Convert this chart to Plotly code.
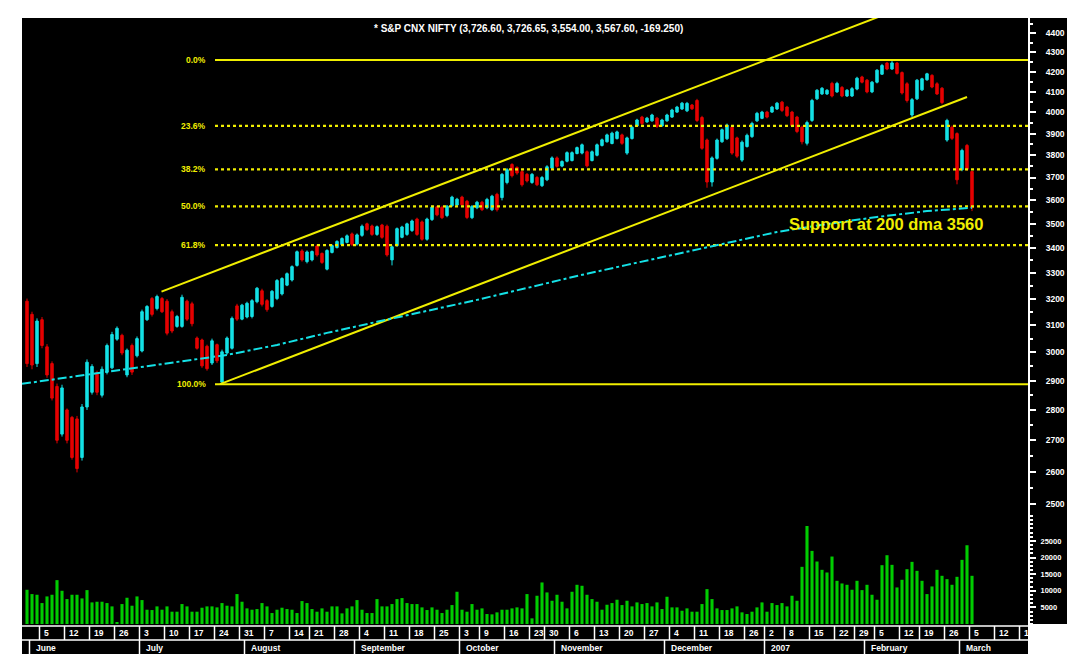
import math
import pandas as pd
import plotly.graph_objects as go

# ---------------- data ----------------
title_text = "* S&P CNX NIFTY (3,726.60, 3,726.65, 3,554.00, 3,567.60, -169.250)"
support_text = "Support at 200 dma 3560"

start_date = "2006-05-31"
axis_end_date = "2007-03-23"
holidays = ["2006-08-15", "2006-10-02", "2006-10-24", "2006-10-25", "2006-12-25",
            "2007-01-01", "2007-01-26", "2007-01-30", "2007-02-16"]

opens = [
    3190, 3140, 2960, 3120, 3020, 2960, 2880, 2720, 2800, 2775,
    2770, 2645, 2810, 2860, 2928, 2850, 2930, 2945, 3048, 3062,
    2920, 3025, 2988, 3005, 3120, 3200, 3162, 3200, 3190, 3150,
    3095, 3095, 3190, 3180, 3052, 3045, 3022, 2962, 3028, 2895,
    2998, 3015, 3172, 3122, 3130, 3132, 3188, 3230, 3192, 3170,
    3200, 3218, 3252, 3272, 3330, 3388, 3345, 3352, 3408, 3378,
    3315, 3382, 3402, 3414, 3423, 3458, 3416, 3452, 3500, 3491,
    3456, 3495, 3490, 3352, 3410, 3444, 3456, 3472, 3520, 3508,
    3436, 3518, 3572, 3570, 3535, 3577, 3580, 3614, 3596, 3526,
    3568, 3592, 3568, 3560, 3626, 3612, 3678, 3758, 3745, 3726,
    3714, 3678, 3700, 3664, 3690, 3742, 3788, 3751, 3773, 3776,
    3808, 3810, 3816, 3776, 3800, 3845, 3862, 3854, 3877, 3894,
    3810, 3877, 3936, 3978, 3955, 3960, 3973, 3936, 3960, 3978,
    4002, 4017, 4008, 4036, 4058, 3976, 3870, 3680, 3786, 3862,
    3876, 3930, 3880, 3778, 3840, 3886, 3960, 3972, 4002, 4002,
    4017, 4050, 4026, 4002, 3978, 3930, 3855, 3962, 4066, 4090,
    4090, 4142, 4100, 4122, 4080, 4080, 4114, 4174, 4158, 4100,
    4148, 4188, 4244, 4214, 4244, 4196, 4140, 3988, 4066, 4110,
    4160, 4182, 4140, 4118, 3870, 3930, 3900, 3735, 3845, 3726.6,
]
highs = [
    3200, 3150, 3125, 3130, 3030, 2968, 2890, 2886, 2805, 2780,
    2780, 2820, 2975, 2958, 2935, 2950, 3032, 3075, 3095, 3068,
    3014, 3032, 3058, 3158, 3175, 3206, 3215, 3206, 3198, 3158,
    3138, 3215, 3196, 3188, 3058, 3050, 3028, 3050, 3032, 3010,
    3058, 3132, 3180, 3180, 3188, 3198, 3245, 3238, 3198, 3233,
    3276, 3283, 3302, 3330, 3390, 3395, 3390, 3390, 3415, 3382,
    3395, 3415, 3432, 3444, 3456, 3464, 3460, 3497, 3505, 3497,
    3493, 3500, 3497, 3410, 3485, 3492, 3505, 3518, 3526, 3514,
    3526, 3577, 3577, 3577, 3580, 3620, 3611, 3620, 3602, 3580,
    3598, 3598, 3611, 3624, 3633, 3720, 3742, 3764, 3750, 3733,
    3720, 3720, 3707, 3707, 3755, 3795, 3795, 3777, 3818, 3818,
    3840, 3854, 3822, 3822, 3854, 3877, 3900, 3909, 3914, 3900,
    3886, 3937, 3970, 3984, 3979, 3994, 3979, 3970, 3994, 4018,
    4032, 4051, 4051, 4041, 4066, 3984, 3877, 3795, 3877, 3924,
    3947, 3937, 3886, 3868, 3900, 3956, 4003, 4008, 4008, 4032,
    4051, 4056, 4032, 4008, 3984, 3937, 3961, 4066, 4114, 4124,
    4114, 4150, 4150, 4129, 4114, 4124, 4175, 4180, 4164, 4154,
    4214, 4240, 4250, 4258, 4250, 4202, 4148, 4070, 4164, 4170,
    4195, 4188, 4148, 4124, 3970, 3938, 3906, 3830, 3852, 3726.65,
]
lows = [
    2948, 2940, 2948, 3015, 2910, 2832, 2690, 2712, 2690, 2638,
    2598, 2635, 2800, 2852, 2850, 2842, 2922, 2940, 3042, 2990,
    2912, 2920, 2982, 3000, 3115, 3132, 3155, 3145, 3062, 3070,
    3090, 3090, 3115, 3095, 3010, 2945, 2935, 2955, 2962, 2888,
    2992, 3010, 3115, 3118, 3125, 3125, 3182, 3170, 3150, 3165,
    3194, 3212, 3248, 3266, 3325, 3345, 3338, 3346, 3365, 3336,
    3310, 3378, 3398, 3410, 3419, 3408, 3410, 3446, 3470, 3450,
    3450, 3438, 3365, 3330, 3405, 3440, 3450, 3466, 3450, 3430,
    3430, 3512, 3532, 3520, 3528, 3572, 3576, 3575, 3520, 3520,
    3562, 3554, 3562, 3554, 3552, 3600, 3670, 3700, 3712, 3660,
    3678, 3672, 3662, 3658, 3684, 3736, 3744, 3746, 3768, 3772,
    3804, 3804, 3745, 3772, 3795, 3840, 3858, 3850, 3872, 3848,
    3802, 3872, 3932, 3940, 3951, 3956, 3926, 3932, 3956, 3974,
    3998, 4012, 4002, 4012, 3954, 3825, 3655, 3660, 3780, 3857,
    3870, 3802, 3788, 3770, 3835, 3880, 3955, 3968, 3972, 3998,
    4012, 4002, 3978, 3930, 3902, 3850, 3845, 3955, 4060, 4085,
    4085, 4073, 4095, 4074, 4075, 4075, 4108, 4142, 4093, 4094,
    4142, 4184, 4208, 4210, 4186, 4087, 4048, 3978, 4060, 4104,
    4155, 4118, 4085, 4040, 3862, 3870, 3670, 3728, 3730, 3554,
]
closes = [
    2960, 2955, 3115, 3025, 2920, 2840, 2700, 2875, 2700, 2645,
    2610, 2810, 2965, 2950, 2860, 2940, 3025, 3065, 3088, 2998,
    3008, 2930, 3050, 3150, 3170, 3140, 3208, 3150, 3070, 3078,
    3132, 3205, 3122, 3105, 3015, 2952, 2942, 3042, 2970, 3002,
    3052, 3125, 3122, 3175, 3182, 3192, 3240, 3178, 3158, 3228,
    3270, 3278, 3297, 3325, 3385, 3352, 3384, 3386, 3372, 3342,
    3390, 3410, 3427, 3439, 3450, 3415, 3454, 3490, 3476, 3456,
    3488, 3444, 3372, 3405, 3480, 3487, 3500, 3512, 3456, 3436,
    3520, 3571, 3538, 3526, 3575, 3614, 3605, 3581, 3527, 3574,
    3592, 3560, 3604, 3618, 3560, 3714, 3735, 3708, 3720, 3668,
    3685, 3714, 3668, 3700, 3748, 3788, 3750, 3772, 3812, 3812,
    3835, 3848, 3752, 3816, 3848, 3871, 3894, 3902, 3908, 3855,
    3880, 3930, 3964, 3948, 3973, 3988, 3934, 3964, 3988, 4012,
    4026, 4045, 4044, 4018, 3962, 3832, 3680, 3788, 3870, 3918,
    3940, 3810, 3796, 3860, 3892, 3948, 3996, 4002, 3978, 4026,
    4045, 4010, 3985, 3938, 3910, 3862, 3952, 4058, 4108, 4118,
    4108, 4080, 4142, 4080, 4108, 4116, 4168, 4148, 4100, 4148,
    4208, 4232, 4214, 4245, 4192, 4095, 4058, 4062, 4158, 4165,
    4190, 4124, 4090, 4048, 3962, 3878, 3690, 3822, 3736.85, 3567.6,
]
volumes = [
    10300, 9000, 8800, 6300, 8300, 8800, 13200, 10000, 7500, 8800,
    8800, 7700, 10200, 6500, 6700, 6700, 6300, 5300, 600, 6000,
    7900, 5500, 8300, 7200, 4300, 4200, 5300, 4300, 5300, 3700,
    3700, 6000, 5300, 3700, 3700, 4900, 5300, 5300, 5000, 6300,
    5500, 5300, 9000, 6700, 4700, 4300, 4500, 6300, 5300, 3300,
    4300, 4900, 4500, 4300, 3300, 6900, 6300, 4500, 3700, 4700,
    3700, 5300, 5300, 3200, 4700, 5300, 7200, 4300, 3300, 3300,
    7500, 5300, 5300, 6000, 7500, 7800, 6300, 6000, 6000, 5000,
    4200, 5000, 4300, 3300, 4300, 5700, 9700, 4300, 3700, 6000,
    4300, 4700, 3000, 2900, 3500, 4300, 4300, 4700, 5000, 4700,
    9000, 1700, 8500, 12500, 9500, 7000, 8800, 6700, 4700, 9700,
    11800, 11500, 8800, 7500, 6700, 4300, 5800, 6300, 7300, 5700,
    7000, 5300, 6500, 6000, 6300, 5300, 6500, 4500, 8200, 5000,
    5000, 4000, 4700, 3700, 3700, 6000, 10500, 7500, 4700, 4200,
    4200, 4700, 5300, 3500, 3000, 3700, 5000, 6500, 3700, 6300,
    5700, 6300, 5300, 8500, 7000, 17200, 29500, 22000, 18800, 16300,
    15500, 20300, 13000, 12200, 11800, 10300, 13000, 10200, 11800, 8800,
    7300, 17700, 20700, 17800, 11000, 13300, 16500, 18700, 16000, 13000,
    9000, 11300, 16300, 14500, 13500, 11800, 14200, 19300, 23700, 14500,
]

price_ticks = [2500, 2600, 2700, 2800, 2900, 3000, 3100, 3200, 3300, 3400,
               3500, 3600, 3700, 3800, 3900, 4000, 4100, 4200, 4300, 4400]
volume_ticks = [5000, 10000, 15000, 20000, 25000]

fib_high = 4260
fib_low = 2888
fib_ratios = [0.0, 0.236, 0.382, 0.5, 0.618, 1.0]
fib_labels = ["0.0%", "23.6%", "38.2%", "50.0%", "61.8%", "100.0%"]
fib_start = 37.6

upper_channel_x = [26.9, 180]
upper_channel_y = [3227, 4587]
lower_channel_x = [38.6, 188]
lower_channel_y = [2888, 4075]

dma_x = [-1, 10, 20, 30, 40, 50, 60, 70, 80, 90, 100, 110, 120, 130, 140, 150, 160, 170, 180, 189]
dma_y = [2889, 2916, 2941, 2966, 2991, 3027, 3071, 3112, 3153, 3195, 3241, 3288, 3332, 3376,
         3420, 3466, 3499, 3529, 3554, 3568]

support_x = 171.8
support_y = 3499

month_names = {1: "2007", 2: "February", 3: "March", 4: "April", 5: "May", 6: "June",
               7: "July", 8: "August", 9: "September", 10: "October", 11: "November",
               12: "December"}

# ---------------- styling ----------------
CYAN = "#14e1e6"
RED = "#e60000"
YELLOW = "#f0ee00"
GREEN = "#00cc00"
X_MIN, X_MAX = -1, 200.2
PRICE_MIN, PRICE_MAX = 2468.6, 4479.9
DATE_DOM = 30 / 636
VOL_DOM = DATE_DOM + 109 / 636

n = len(closes)
idx = list(range(n))

fig = go.Figure()

# volume
fig.add_trace(go.Bar(x=idx, y=volumes, yaxis="y2", width=0.62,
                     marker=dict(color=GREEN, line=dict(width=0))))

# candles
fig.add_trace(go.Candlestick(
    x=idx, open=opens, high=highs, low=lows, close=closes,
    increasing=dict(line=dict(color=CYAN, width=1), fillcolor=CYAN),
    decreasing=dict(line=dict(color=RED, width=1), fillcolor=RED),
    whiskerwidth=0))

# fibonacci levels
for r, lab in zip(fib_ratios, fib_labels):
    lvl = fib_high - r * (fib_high - fib_low)
    solid = r in (0.0, 1.0)
    fig.add_trace(go.Scatter(x=[fib_start, X_MAX], y=[lvl, lvl], mode="lines",
                             line=dict(color=YELLOW, width=2 if solid else 2.2,
                                       dash="solid" if solid else "3px,3px")))
    fig.add_annotation(x=fib_start - 1.4, y=math.log10(lvl), xref="x", yref="y",
                       text=lab, showarrow=False, xanchor="right", yanchor="middle",
                       font=dict(family="Arial", size=8.5, color=YELLOW, weight="bold"))

# channel
fig.add_trace(go.Scatter(x=upper_channel_x, y=upper_channel_y, mode="lines",
                         line=dict(color=YELLOW, width=2)))
fig.add_trace(go.Scatter(x=lower_channel_x, y=lower_channel_y, mode="lines",
                         line=dict(color=YELLOW, width=2)))

# 200 dma
fig.add_trace(go.Scatter(x=dma_x, y=dma_y, mode="lines",
                         line=dict(color=CYAN, width=2, dash="dashdot")))

# ---------------- date strip ----------------
hol = set(pd.to_datetime(holidays))
axis_days = [d for d in pd.bdate_range(start_date, axis_end_date) if d not in hol]
week_seps, month_seps = [], []
for i in range(1, len(axis_days)):
    d, p = axis_days[i], axis_days[i - 1]
    if d.isocalendar()[1] != p.isocalendar()[1]:
        week_seps.append((i - 0.5, str(d.day)))
    if d.month != p.month:
        month_seps.append((i - 0.5, month_names[d.month]))

sx, sy = [X_MIN, X_MAX, None, X_MIN, X_MAX, None], [28, 28, None, 14, 14, None]
for pos, lab in week_seps:
    if pos < X_MAX:
        sx += [pos, pos, None]
        sy += [14, 28, None]
        fig.add_annotation(x=pos + 0.45, y=21, xref="x", yref="y3", text=lab,
                           showarrow=False, xanchor="left", yanchor="middle",
                           font=dict(family="Arial", size=8.5, color="white", weight="bold"))
for pos, lab in month_seps:
    if pos < X_MAX:
        sx += [pos, pos, None]
        sy += [0, 14, None]
        fig.add_annotation(x=pos + 0.8, y=6.5, xref="x", yref="y3", text=lab,
                           showarrow=False, xanchor="left", yanchor="middle",
                           font=dict(family="Arial", size=8.5, color="white", weight="bold"))
fig.add_trace(go.Scatter(x=sx, y=sy, yaxis="y3", mode="lines",
                         line=dict(color="white", width=1.5)))

# ---------------- texts ----------------
fig.add_annotation(x=support_x, y=math.log10(support_y), xref="x", yref="y",
                   text=support_text, showarrow=False, xanchor="center", yanchor="middle",
                   font=dict(family="Arial", size=16.5, color=YELLOW, weight="bold"))
fig.add_annotation(x=0.503, y=(654 - 28) / 636, xref="paper", yref="paper",
                   text=title_text, showarrow=False, xanchor="center", yanchor="middle",
                   font=dict(family="Arial", size=10, color="white", weight="bold"))

# right-hand black strip
fig.add_shape(type="rect", xref="paper", yref="paper", x0=1, x1=1.06,
              y0=DATE_DOM, y1=1, fillcolor="black", line=dict(width=0), layer="below")

tickfont = dict(family="Arial", size=8.5, color="white", weight="bold")
fig.update_layout(
    width=1067, height=646,
    margin=dict(l=14, r=47, t=10, b=0),
    paper_bgcolor="white", plot_bgcolor="black",
    showlegend=False, hovermode=False,
    xaxis=dict(range=[X_MIN, X_MAX], visible=False, rangeslider=dict(visible=False)),
    yaxis=dict(type="log", domain=[VOL_DOM, 1],
               range=[math.log10(PRICE_MIN), math.log10(PRICE_MAX)],
               side="right", anchor="x", tickvals=price_ticks,
               ticktext=[str(t) for t in price_ticks],
               ticks="outside", ticklen=6, tickcolor="white", tickwidth=1.5,
               showline=True, linecolor="white", linewidth=2,
               showgrid=False, zeroline=False, tickfont=tickfont, ticklabelstandoff=8,
               minor=dict(tickvals=[t + 50 for t in price_ticks], ticks="outside",
                          ticklen=3, tickcolor="white", tickwidth=1.5)),
    yaxis2=dict(domain=[DATE_DOM, VOL_DOM], range=[0, 32800], side="right", anchor="x",
                tickvals=volume_ticks, ticktext=[str(t) for t in volume_ticks],
                ticks="outside", ticklen=6, tickcolor="white", tickwidth=1.5,
                showline=True, linecolor="white", linewidth=2,
                showgrid=False, zeroline=False, tickfont=dict(tickfont, size=7.5),
                ticklabelstandoff=3,
                minor=dict(dtick=1250, ticks="outside", ticklen=3, tickcolor="white")),
    yaxis3=dict(domain=[0, DATE_DOM], range=[0, 30], visible=False, anchor="x"),
)

fig.write_html("out.html")
